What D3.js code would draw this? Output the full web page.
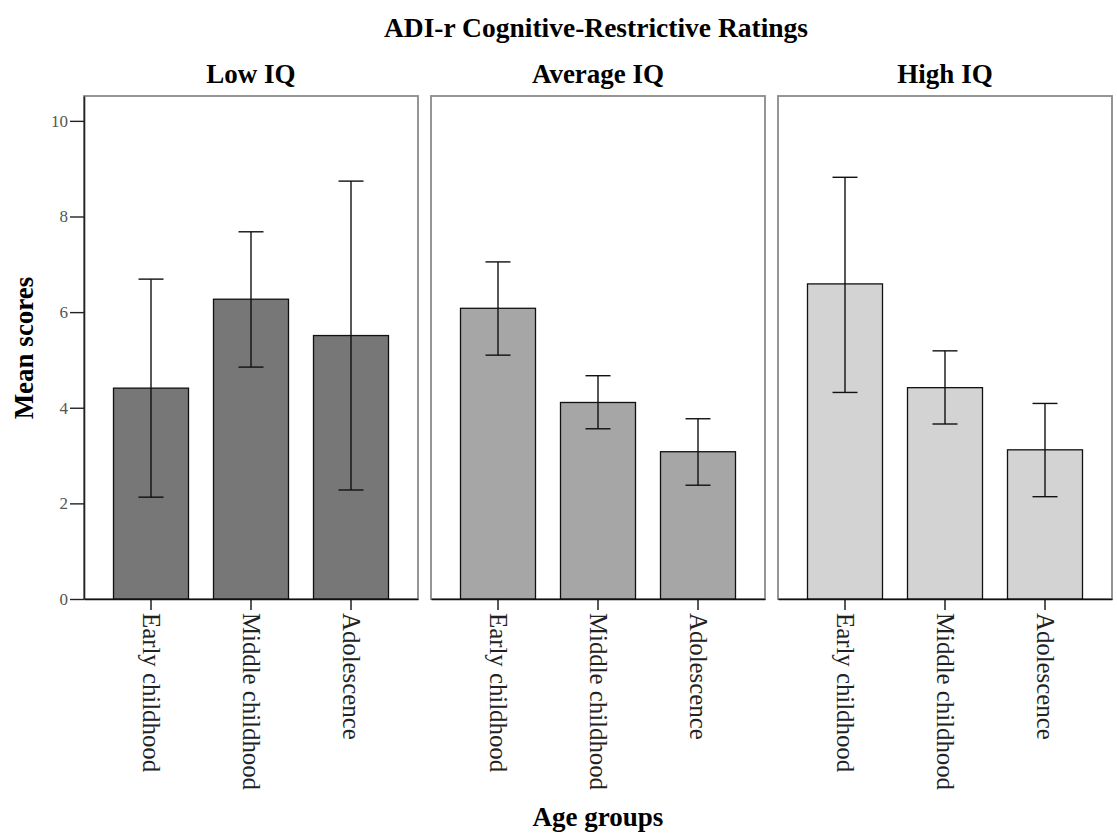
<!DOCTYPE html>
<html>
<head>
<meta charset="utf-8">
<script src="https://cdn.jsdelivr.net/npm/d3@7"></script>
<style>
  body { margin: 0; background: #fff; }
  text { font-family: "Liberation Serif", "Times New Roman", serif; }
</style>
</head>
<body>
<div id="chart"></div>
<script>
// Data
const groups = ["Low IQ", "Average IQ", "High IQ"];
const ages = ["Early childhood", "Middle childhood", "Adolescence"];

const lowMeans = [4.41, 6.27, 5.51];
const lowLower = [2.13, 4.85, 2.28];
const lowUpper = [6.69, 7.68, 8.74];

const avgMeans = [6.08, 4.11, 3.08];
const avgLower = [5.10, 3.56, 2.38];
const avgUpper = [7.05, 4.67, 3.77];

const highMeans = [6.59, 4.42, 3.12];
const highLower = [4.32, 3.66, 2.14];
const highUpper = [8.82, 5.19, 4.09];

const groupFills = ["#777777", "#a6a6a6", "#d3d3d3"];
const yTicks = [0, 2, 4, 6, 8, 10];

const width = 1117, height = 838;
const margin = { top: 96, right: 5, bottom: 239, left: 84 };

const panels = [
  { name: groups[0], means: lowMeans, lower: lowLower, upper: lowUpper, fill: groupFills[0] },
  { name: groups[1], means: avgMeans, lower: avgLower, upper: avgUpper, fill: groupFills[1] },
  { name: groups[2], means: highMeans, lower: highLower, upper: highUpper, fill: groupFills[2] },
];

const svg = d3
  .select("#chart")
  .append("svg")
  .attr("width", width)
  .attr("height", height);

// Scales
const panelX = d3
  .scaleBand()
  .domain(groups)
  .range([margin.left, width - margin.right])
  .paddingInner(13 / 347);

const x = d3
  .scaleBand()
  .domain(ages)
  .range([0, panelX.bandwidth()])
  .paddingInner(0.25)
  .paddingOuter(0.295);

const y = d3
  .scaleLinear()
  .domain([0, 10.52])
  .range([height - margin.bottom, margin.top]);

// Title
svg
  .append("text")
  .attr("x", 596)
  .attr("y", 37)
  .attr("text-anchor", "middle")
  .style("font-size", "27.5px")
  .style("font-weight", "bold")
  .text("ADI-r Cognitive-Restrictive Ratings");

// Panels
const panelG = svg
  .selectAll(".panel")
  .data(panels)
  .enter()
  .append("g")
  .attr("class", "panel")
  .attr("transform", (d) => `translate(${panelX(d.name)},0)`);

panelG
  .append("rect")
  .attr("x", 0)
  .attr("y", y.range()[1])
  .attr("width", panelX.bandwidth())
  .attr("height", y.range()[0] - y.range()[1])
  .attr("fill", "none")
  .attr("stroke", "#8a8a8a")
  .attr("stroke-width", 1.8);

panelG
  .append("text")
  .attr("x", panelX.bandwidth() / 2)
  .attr("y", 83)
  .attr("text-anchor", "middle")
  .style("font-size", "27px")
  .style("font-weight", "bold")
  .text((d) => d.name);

// Bars
panelG.each(function (p) {
  const g = d3.select(this);
  const rows = ages.map((a, i) => ({
    age: a,
    mean: p.means[i],
    lo: p.lower[i],
    hi: p.upper[i],
  }));

  g.selectAll(".bar")
    .data(rows)
    .enter()
    .append("rect")
    .attr("class", "bar")
    .attr("x", (d) => x(d.age))
    .attr("y", (d) => y(d.mean))
    .attr("width", x.bandwidth())
    .attr("height", (d) => y(0) - y(d.mean))
    .attr("fill", p.fill)
    .attr("stroke", "#111")
    .attr("stroke-width", 1.3);

  // error bars
  const cap = 12.5;
  const err = g
    .selectAll(".err")
    .data(rows)
    .enter()
    .append("g")
    .attr("class", "err")
    .attr("stroke", "#111")
    .attr("stroke-width", 1.4);

  const cx = (d) => x(d.age) + x.bandwidth() / 2;
  err
    .append("line")
    .attr("x1", cx)
    .attr("x2", cx)
    .attr("y1", (d) => y(d.lo))
    .attr("y2", (d) => y(d.hi));
  err
    .append("line")
    .attr("x1", (d) => cx(d) - cap)
    .attr("x2", (d) => cx(d) + cap)
    .attr("y1", (d) => y(d.hi))
    .attr("y2", (d) => y(d.hi));
  err
    .append("line")
    .attr("x1", (d) => cx(d) - cap)
    .attr("x2", (d) => cx(d) + cap)
    .attr("y1", (d) => y(d.lo))
    .attr("y2", (d) => y(d.lo));

  // bottom axis with rotated labels
  const xAxis = g
    .append("g")
    .attr("transform", `translate(0,${y(0)})`)
    .call(d3.axisBottom(x).tickSize(11).tickSizeOuter(0).tickPadding(3));

  xAxis.select(".domain").attr("stroke", "#111").attr("stroke-width", 1.6);
  xAxis.selectAll(".tick line").attr("stroke", "#111").attr("stroke-width", 1.4);
  xAxis
    .selectAll(".tick text")
    .attr("transform", "rotate(90)")
    .attr("x", 14)
    .attr("y", 0)
    .attr("dy", "0.33em")
    .attr("text-anchor", "start")
    .attr("fill", "#222")
    .style("font-family", '"Liberation Serif", "Times New Roman", serif')
    .style("font-size", "24.8px");
});

// Y axis on the first panel
const yAxis = svg
  .append("g")
  .attr("transform", `translate(${margin.left},0)`)
  .call(d3.axisLeft(y).tickValues(yTicks).tickSize(14).tickSizeOuter(0).tickPadding(2));

yAxis.select(".domain").attr("stroke", "#222").attr("stroke-width", 1.6);
yAxis.selectAll(".tick line").attr("stroke", "#222").attr("stroke-width", 1.4);
yAxis
  .selectAll(".tick text")
  .attr("fill", "#555")
  .style("font-family", '"Liberation Serif", "Times New Roman", serif')
  .style("font-size", "17px");

// Axis titles
svg
  .append("text")
  .attr("transform", "translate(33,348) rotate(-90)")
  .attr("text-anchor", "middle")
  .style("font-size", "27px")
  .style("font-weight", "bold")
  .text("Mean scores");

svg
  .append("text")
  .attr("x", 598)
  .attr("y", 826)
  .attr("text-anchor", "middle")
  .style("font-size", "27px")
  .style("font-weight", "bold")
  .text("Age groups");
</script>
</body>
</html>
